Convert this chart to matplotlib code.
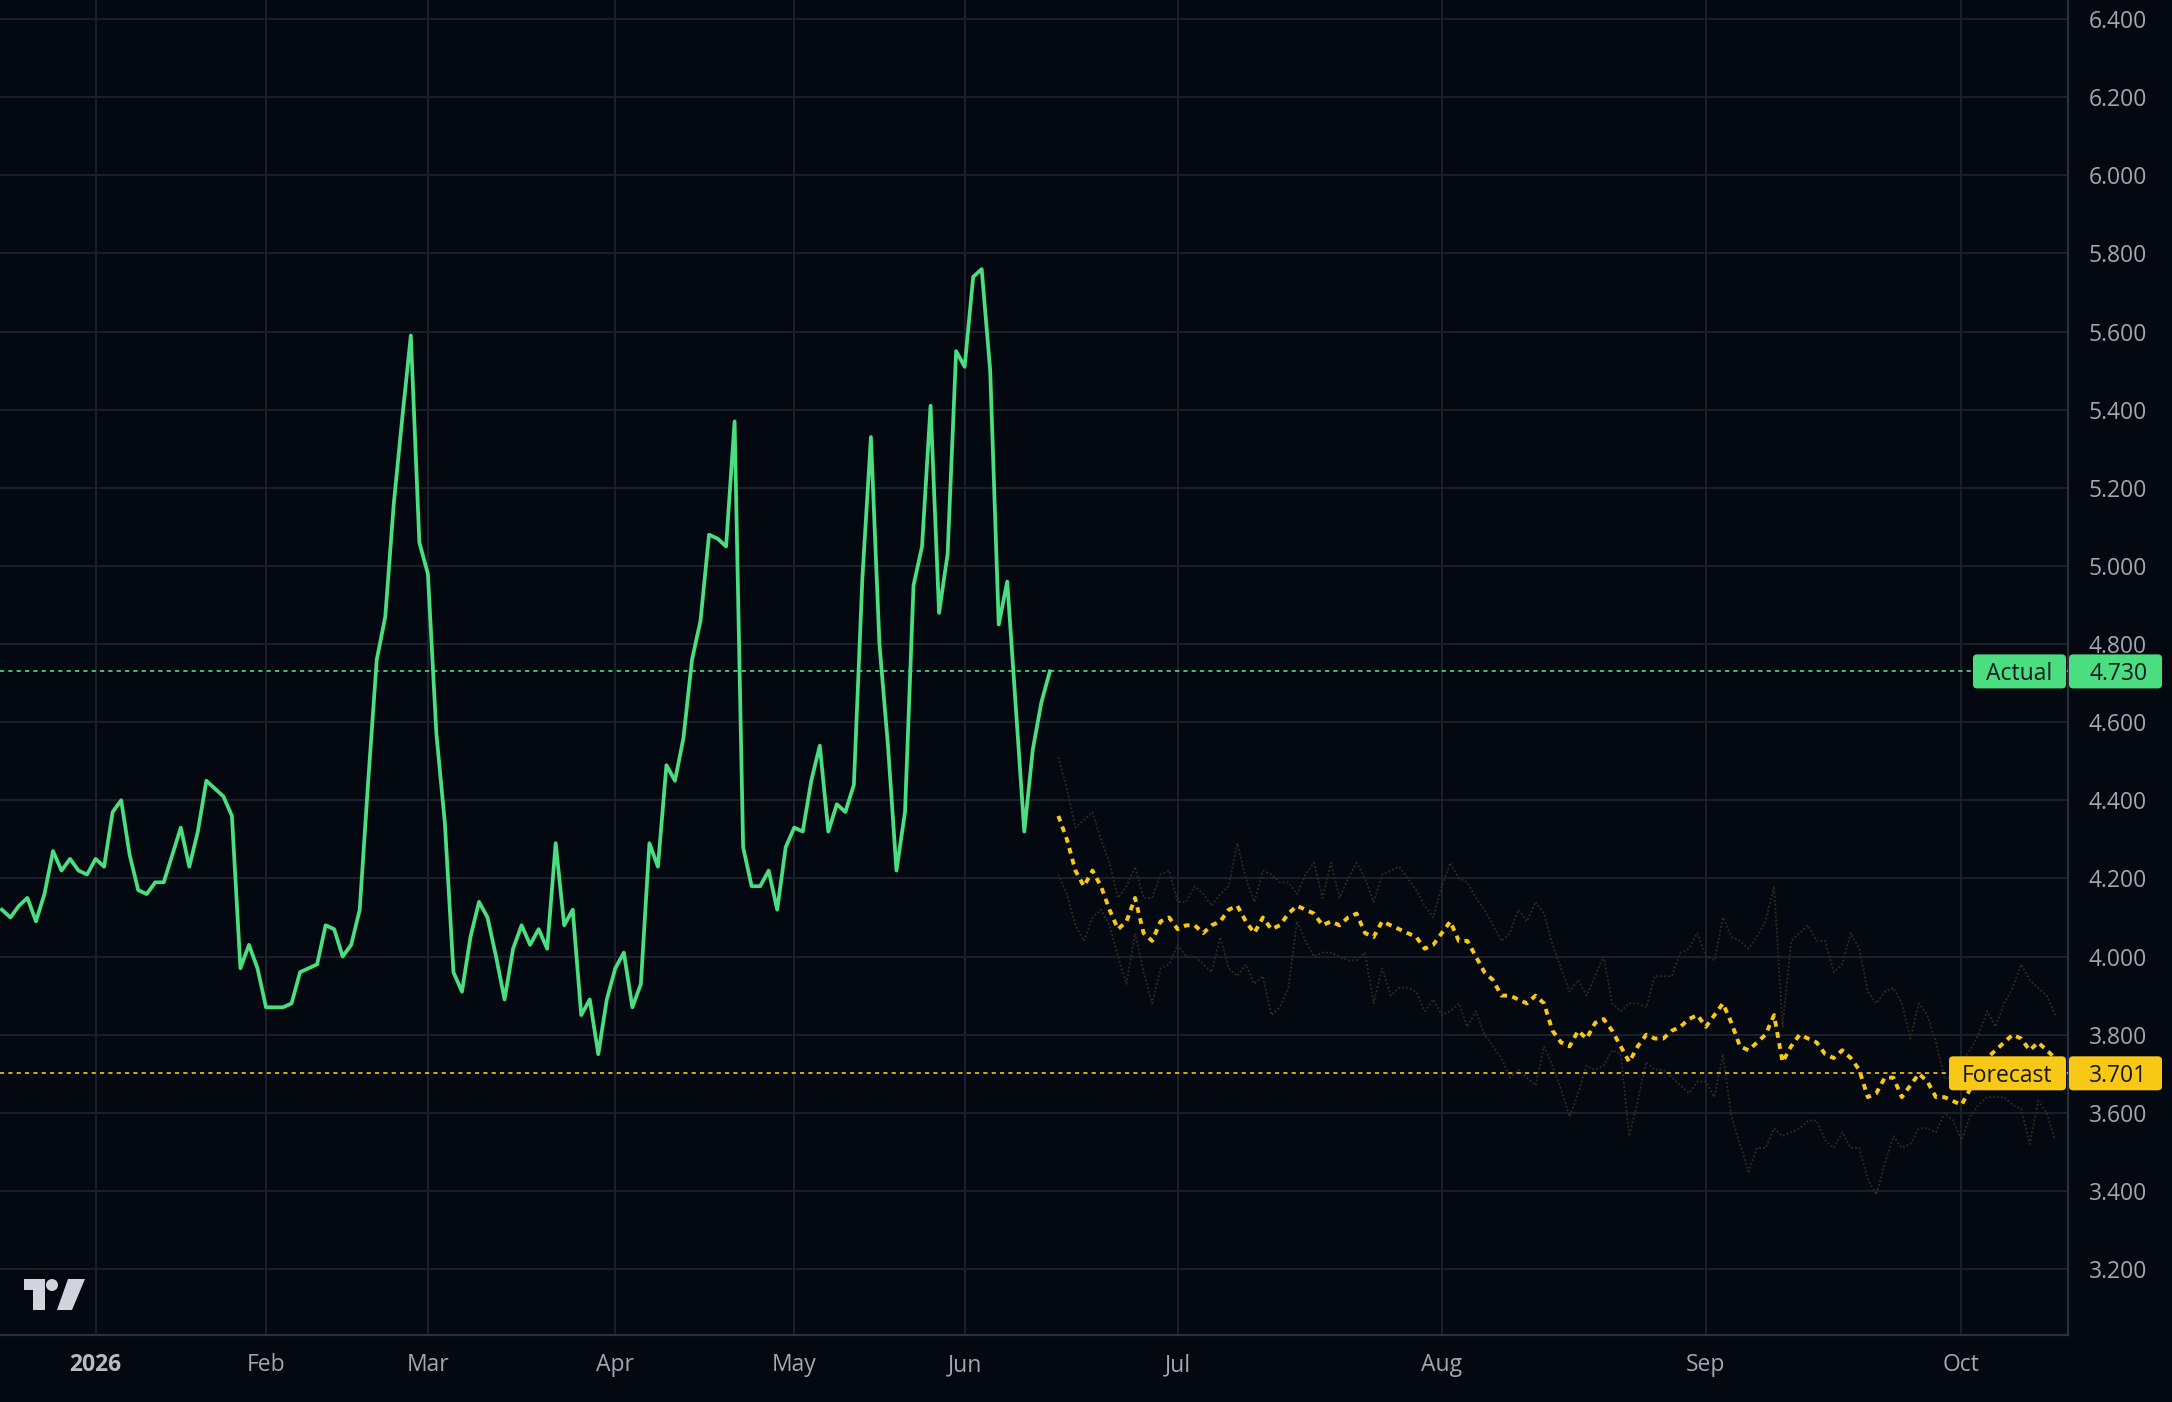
import numpy as np
import matplotlib
matplotlib.use("Agg")
import matplotlib.pyplot as plt
from matplotlib.patches import FancyBboxPatch, Polygon, Circle, Rectangle
from matplotlib.transforms import IdentityTransform

# ---------------- data ----------------
actual = [4.12, 4.10, 4.13, 4.15, 4.09, 4.16, 4.27, 4.22, 4.25, 4.22,
          4.21, 4.25, 4.23, 4.37, 4.40, 4.26, 4.17, 4.16, 4.19, 4.19,
          4.26, 4.33, 4.23, 4.32, 4.45, 4.43, 4.41, 4.36, 3.97, 4.03,
          3.97, 3.87, 3.87, 3.87, 3.88, 3.96, 3.97, 3.98, 4.08, 4.07,
          4.00, 4.03, 4.12, 4.45, 4.76, 4.87, 5.16, 5.38, 5.59, 5.06,
          4.98, 4.57, 4.34, 3.96, 3.91, 4.05, 4.14, 4.10, 4.00, 3.89,
          4.02, 4.08, 4.03, 4.07, 4.02, 4.29, 4.08, 4.12, 3.85, 3.89,
          3.75, 3.89, 3.97, 4.01, 3.87, 3.93, 4.29, 4.23, 4.49, 4.45,
          4.56, 4.76, 4.86, 5.08, 5.07, 5.05, 5.37, 4.28, 4.18, 4.18,
          4.22, 4.12, 4.28, 4.33, 4.32, 4.45, 4.54, 4.32, 4.39, 4.37,
          4.44, 4.97, 5.33, 4.80, 4.54, 4.22, 4.37, 4.95, 5.05, 5.41,
          4.88, 5.03, 5.55, 5.51, 5.74, 5.76, 5.50, 4.85, 4.96, 4.64,
          4.32, 4.53, 4.65, 4.73]

forecast = [4.36, 4.30, 4.22, 4.18, 4.22, 4.18, 4.12, 4.07, 4.09, 4.15,
            4.06, 4.04, 4.09, 4.10, 4.07, 4.08, 4.08, 4.06, 4.08, 4.09,
            4.12, 4.13, 4.09, 4.06, 4.10, 4.07, 4.08, 4.11, 4.13, 4.12,
            4.11, 4.08, 4.09, 4.08, 4.10, 4.11, 4.06, 4.05, 4.09, 4.08,
            4.07, 4.06, 4.05, 4.02, 4.03, 4.06, 4.09, 4.04, 4.04, 4.00,
            3.96, 3.94, 3.90, 3.90, 3.89, 3.88, 3.90, 3.88, 3.81, 3.78,
            3.77, 3.81, 3.79, 3.83, 3.84, 3.81, 3.77, 3.73, 3.77, 3.80,
            3.79, 3.79, 3.81, 3.82, 3.84, 3.85, 3.82, 3.85, 3.88, 3.83,
            3.77, 3.76, 3.78, 3.80, 3.85, 3.73, 3.77, 3.80, 3.79, 3.78,
            3.75, 3.74, 3.76, 3.74, 3.71, 3.64, 3.65, 3.69, 3.69, 3.64,
            3.67, 3.70, 3.68, 3.64, 3.64, 3.63, 3.62, 3.66, 3.70, 3.74,
            3.76, 3.78, 3.80, 3.79, 3.76, 3.78, 3.76, 3.74]

upper = [4.51, 4.43, 4.33, 4.35, 4.37, 4.30, 4.24, 4.15, 4.18, 4.23,
         4.15, 4.15, 4.21, 4.22, 4.14, 4.14, 4.18, 4.16, 4.13, 4.16,
         4.18, 4.29, 4.20, 4.14, 4.22, 4.21, 4.19, 4.19, 4.16, 4.21,
         4.24, 4.15, 4.24, 4.15, 4.20, 4.24, 4.20, 4.14, 4.21, 4.22,
         4.23, 4.20, 4.17, 4.13, 4.10, 4.18, 4.24, 4.20, 4.19, 4.15,
         4.12, 4.08, 4.04, 4.06, 4.12, 4.09, 4.14, 4.11, 4.03, 3.97,
         3.91, 3.94, 3.90, 3.95, 4.00, 3.88, 3.86, 3.88, 3.88, 3.87,
         3.95, 3.95, 3.95, 4.01, 4.02, 4.06, 4.00, 3.99, 4.10, 4.05,
         4.04, 4.02, 4.05, 4.09, 4.18, 3.82, 4.04, 4.06, 4.08, 4.04,
         4.04, 3.96, 3.98, 4.06, 4.02, 3.91, 3.88, 3.91, 3.92, 3.88,
         3.79, 3.88, 3.85, 3.78, 3.69, 3.69, 3.73, 3.76, 3.80, 3.86,
         3.82, 3.88, 3.92, 3.98, 3.94, 3.92, 3.90, 3.85]

lower = [4.21, 4.16, 4.08, 4.04, 4.10, 4.12, 4.08, 4.00, 3.93, 4.06,
         3.96, 3.88, 3.97, 3.98, 4.03, 4.00, 4.00, 3.98, 3.96, 4.05,
         3.97, 3.95, 3.98, 3.93, 3.95, 3.85, 3.87, 3.92, 4.09, 4.04,
         4.00, 4.01, 4.01, 4.00, 3.99, 3.99, 4.01, 3.88, 3.97, 3.90,
         3.92, 3.92, 3.91, 3.86, 3.89, 3.85, 3.86, 3.88, 3.82, 3.86,
         3.80, 3.77, 3.74, 3.69, 3.71, 3.69, 3.67, 3.77, 3.72, 3.66,
         3.59, 3.65, 3.72, 3.71, 3.72, 3.76, 3.75, 3.54, 3.63, 3.73,
         3.71, 3.71, 3.69, 3.67, 3.65, 3.68, 3.68, 3.64, 3.75, 3.59,
         3.52, 3.45, 3.51, 3.51, 3.56, 3.54, 3.55, 3.56, 3.58, 3.58,
         3.53, 3.51, 3.55, 3.51, 3.51, 3.43, 3.39, 3.47, 3.54, 3.51,
         3.52, 3.56, 3.56, 3.55, 3.60, 3.58, 3.53, 3.59, 3.62, 3.64,
         3.64, 3.64, 3.62, 3.61, 3.52, 3.63, 3.60, 3.53]

actual_last = 4.730
forecast_last = 3.701

month_labels = ["2026", "Feb", "Mar", "Apr", "May", "Jun", "Jul", "Aug", "Sep", "Oct"]
month_bar_index = [11, 31, 50, 72, 93, 113, 138, 169, 200, 230]
price_ticks = [3.2, 3.4, 3.6, 3.8, 4.0, 4.2, 4.4, 4.6, 4.8, 5.0, 5.2, 5.4,
               5.6, 5.8, 6.0, 6.2, 6.4]

# ---------------- style ----------------
BG = "#040811"
GRID = "#1b202b"
GREEN = "#4ade80"
YELLOW = "#f7c815"
BAND = "#302e1d"
TXT = "#a3a6af"
FS = 16.5
plt.rcParams["font.family"] = ["Open Sans", "DejaVu Sans"]

W, H = 2172, 1402
fig = plt.figure(figsize=(W / 100, H / 100), dpi=100, facecolor=BG)
ax = fig.add_axes([0, 67 / H, 2068 / W, 1335 / H], facecolor=BG)

x_act = np.arange(len(actual))
x_fc = np.arange(len(actual), len(actual) + len(forecast))

ax.plot(x_fc, upper, color=BAND, lw=1.3, ls=(0, (1, 1.2)), zorder=2)
ax.plot(x_fc, lower, color=BAND, lw=1.3, ls=(0, (1, 1.2)), zorder=2)
ax.plot(x_act, actual, color=GREEN, lw=2.7, zorder=4, solid_joinstyle="round")
ax.plot(x_fc, forecast, color=YELLOW, lw=2.8, ls=(0, (1.5, 1.4)), zorder=4,
        dash_capstyle="butt")

ax.axhline(actual_last, color=GREEN, lw=1.2, ls=(0, (2.5, 2.5)), zorder=3)
ax.axhline(forecast_last, color=YELLOW, lw=1.2, ls=(0, (2.5, 2.5)), zorder=3)

ax.set_xlim(-0.22, 242.5)
ax.set_ylim(3.031, 6.449)

ax.set_yticks(price_ticks)
ax.set_yticklabels([f"{v:.3f}" for v in price_ticks])
ax.yaxis.tick_right()
ax.tick_params(axis="y", length=0, pad=15, labelsize=FS, labelcolor=TXT)
ax.set_xticks(month_bar_index)
ax.set_xticklabels(month_labels)
ax.tick_params(axis="x", length=0, pad=13, labelsize=FS, labelcolor=TXT)
for lbl in ax.get_xticklabels():
    if lbl.get_text() == "2026":
        lbl.set_fontweight("bold")
        lbl.set_color("#b8bbc4")

ax.grid(True, color=GRID, lw=1.4, zorder=0)
ax.set_axisbelow(True)
for s in ("top", "left"):
    ax.spines[s].set_visible(False)
for s in ("right", "bottom"):
    ax.spines[s].set_color("#2a2f3b")
    ax.spines[s].set_linewidth(1.6)

# ---------------- price tags ----------------
ident = IdentityTransform()


def tag(value, label, color, left_px):
    y = ax.transData.transform((0, value))[1]
    h = 34
    ax_right = 2066
    b1 = FancyBboxPatch((left_px, y - h / 2), ax_right - left_px, h,
                        boxstyle="round,pad=0,rounding_size=4",
                        transform=ident, fc=color, ec="none", zorder=20)
    b2 = FancyBboxPatch((2069, y - h / 2), 93, h,
                        boxstyle="round,pad=0,rounding_size=4",
                        transform=ident, fc=color, ec="none", zorder=20)
    fig.add_artist(b1)
    fig.add_artist(b2)
    fig.text((left_px + ax_right) / 2 / W, y / H, label, ha="center",
             va="center_baseline", fontsize=FS, color="#131722", zorder=21)
    fig.text(2089 / W, y / H, f"{value:.3f}", ha="left",
             va="center_baseline", fontsize=FS, color="#131722", zorder=21)


tag(actual_last, "Actual", GREEN, 1973)
tag(forecast_last, "Forecast", YELLOW, 1949)

# ---------------- logo ----------------
LOGO = "#d1d4dc"
fig.add_artist(Rectangle((23.5, H - 1290), 21.5, 11, transform=ident,
                         fc=LOGO, ec="none"))
fig.add_artist(Rectangle((33, H - 1310), 12, 31, transform=ident,
                         fc=LOGO, ec="none"))
fig.add_artist(Circle((52, H - 1285), 6, transform=ident, fc=LOGO, ec="none"))
fig.add_artist(Polygon([(57, H - 1310), (72, H - 1310), (85, H - 1279),
                        (68, H - 1279)], closed=True, transform=ident,
                       fc=LOGO, ec="none"))

fig.savefig("out.png", dpi=100, facecolor=BG)
